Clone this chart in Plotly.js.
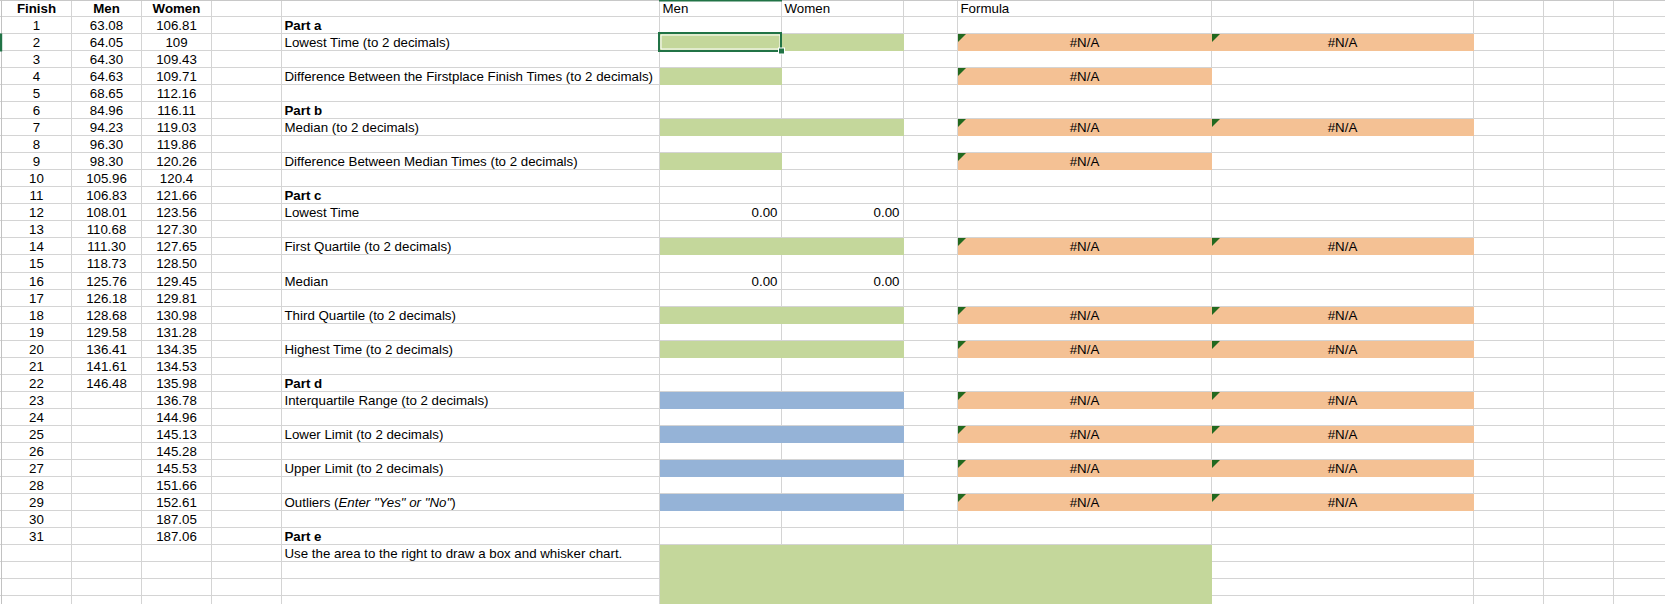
<!DOCTYPE html>
<html>
<head>
<meta charset="utf-8">
<script src="https://cdn.plot.ly/plotly-3.0.1.min.js"></script>
<style>html,body{margin:0;padding:0;background:#fff;}#chart{width:1665px;height:604px;}</style>
</head>
<body>
<div id="chart"></div>
<script>
// ---------------- DATA ----------------
const finish = [1,2,3,4,5,6,7,8,9,10,11,12,13,14,15,16,17,18,19,20,21,22,23,24,25,26,27,28,29,30,31];
const men = ["63.08","64.05","64.30","64.63","68.65","84.96","94.23","96.30","98.30","105.96","106.83",
             "108.01","110.68","111.30","118.73","125.76","126.18","128.68","129.58","136.41","141.61","146.48"];
const women = ["106.81","109","109.43","109.71","112.16","116.11","119.03","119.86","120.26","120.4","121.66",
               "123.56","127.30","127.65","128.50","129.45","129.81","130.98","131.28","134.35","134.53","135.98",
               "136.78","144.96","145.13","145.28","145.53","151.66","152.61","187.05","187.06"];
const dataHeaders = ["Finish","Men","Women"];
const answerHeaders = ["Men","Women"];
const formulaHeader = "Formula";

const partRows = [1,6,11,22,31];
const partLabels = ["Part a","Part b","Part c","Part d","Part e"];
const itemRows = [2,4,7,9,12,14,16,18,20,23,25,27,29,32];
const itemLabels = [
  "Lowest Time (to 2 decimals)",
  "Difference Between the Firstplace Finish Times (to 2 decimals)",
  "Median (to 2 decimals)",
  "Difference Between Median Times (to 2 decimals)",
  "Lowest Time",
  "First Quartile (to 2 decimals)",
  "Median",
  "Third Quartile (to 2 decimals)",
  "Highest Time (to 2 decimals)",
  "Interquartile Range (to 2 decimals)",
  "Lower Limit (to 2 decimals)",
  "Upper Limit (to 2 decimals)",
  "Outliers (<i>Enter \"Yes\" or \"No\"</i>)",
  "Use the area to the right to draw a box and whisker chart."
];
const menInputRows = [2,4,7,9,14,18,20];
const womenInputRows = [2,7,14,18,20];
const limitInputRows = [23,25,27,29];
const computedRows = [12,16];
const computedMen = ["0.00","0.00"];
const computedWomen = ["0.00","0.00"];
const formulaMenRows = [2,4,7,9,14,18,20,23,25,27,29];
const formulaWomenRows = [2,7,14,18,20,23,25,27,29];
const formulaValue = "#N/A";
const chartAreaStartRow = 32;

// ---------------- GEOMETRY / STYLE ----------------
const W = 1665, H = 604;
const colEdges = [1.5, 71.5, 141.5, 211.5, 281.5, 659.5, 781.5, 903.5, 957.5, 1211.5, 1473.5, 1543.5, 1613.5];
const ROW0 = 16.7, PITCH = 17.02;
function lineY(k){ return Math.floor(ROW0 + PITCH*k) + 0.5; }
function rowTop(r){ return r === 0 ? 0.5 : lineY(r-1); }
function rowBot(r){ return lineY(r); }
function rowMid(r){ return (rowTop(r) + rowBot(r))/2 + 1.3; }
function colL(c){ return colEdges[c]; }
function colR(c){ return colEdges[c+1]; }
function colMid(c){ return (colEdges[c]+colEdges[c+1])/2; }
const PAD = 3;
const GRID = "#d4d4d4";
const GREEN = "#c4d79b", BLUE = "#95b3d7", ORANGE = "#f4c194";
const SEL = "#217346", TRI = "#22691f";
const FONT = {family: "'Liberation Sans', Arial, sans-serif", size: 13.3, color: "#000"};

const shapes = [];
function rect(x0,y0,x1,y1,fill,line){
  shapes.push({type:"rect", xref:"x", yref:"y", x0:x0, y0:y0, x1:x1, y1:y1, layer:"below",
    fillcolor: fill || "rgba(0,0,0,0)", line: line || {width:0}});
}
function lineShape(x0,y0,x1,y1,color,w){
  shapes.push({type:"line", xref:"x", yref:"y", x0:x0, y0:y0, x1:x1, y1:y1, layer:"below",
    line:{color:color, width:w||1}});
}

// gridlines
for(let k=0; k<36; k++){ const y=lineY(k); if(y<H) lineShape(0,y,W,y,GRID,1); }
colEdges.forEach((x,i)=>{ lineShape(x,0,x,H, i===0 ? "#c2c2c2" : GRID, 1); });
lineShape(0,0.5,W,0.5,"#c8c8c8",1);

// fills (cover gridlines of the filled cells)
function cellFill(r, c0, c1, color){ rect(colL(c0)+0.5, rowTop(r)+0.5, colR(c1)+0.5, rowBot(r)+0.5, color); }
const F=5, G=6, I=8, J=9;
menInputRows.forEach(r=>{ cellFill(r, F, womenInputRows.includes(r) ? G : F, GREEN); });
limitInputRows.forEach(r=>{ cellFill(r, F, G, BLUE); });
formulaMenRows.forEach(r=>{ cellFill(r, I, formulaWomenRows.includes(r) ? J : I, ORANGE); });
rect(colL(F)+0.5, rowTop(chartAreaStartRow)+0.5, colR(I)+0.5, H, GREEN);

// error indicator triangles
function tri(r, c){
  const x = colL(c)+0.5, y = rowTop(r)+0.5;
  shapes.push({type:"path", xref:"x", yref:"y", layer:"below",
    path:`M ${x},${y} L ${x+8},${y} L ${x},${y+8} Z`, fillcolor:TRI, line:{width:0}});
}
formulaMenRows.forEach(r=>tri(r, I));
formulaWomenRows.forEach(r=>tri(r, J));

// selection of the first answer cell
const selR = menInputRows[0];
rect(colL(F)+1.5, rowTop(selR)+1.5, colR(F)-1.5, rowBot(selR)-1.5, null, {color:"#ffffff", width:1});
rect(colL(F)-0.5, rowTop(selR)-0.5, colR(F)-0.5, rowBot(selR)+0.5, null, {color:SEL, width:2});
rect(colR(F)-3.5, rowBot(selR)-3, colR(F)+3.5, rowBot(selR)+4, "#ffffff");
rect(colR(F)-2.5, rowBot(selR)-2, colR(F)+2.5, rowBot(selR)+3, SEL);
rect(colL(F)-0.5, 0, colR(F)+0.5, 1.5, SEL);
rect(0, rowTop(selR), 2.2, rowBot(selR)+1, SEL);

// ---------------- TEXT TRACES ----------------
const traces = [];
function txt(xs, ys, texts, pos, font){
  traces.push({type:"scatter", mode:"text", x:xs, y:ys, text:texts, textposition:pos,
    textfont: Object.assign({}, FONT, font||{}), hoverinfo:"skip", showlegend:false, cliponaxis:false});
}
// header row
txt([colMid(0),colMid(1),colMid(2)], [rowMid(0),rowMid(0),rowMid(0)], dataHeaders.map(s=>"<b>"+s+"</b>"), "middle center");
txt([colL(F)+PAD, colL(G)+PAD, colL(I)+PAD], [rowMid(0),rowMid(0),rowMid(0)],
    [answerHeaders[0], answerHeaders[1], formulaHeader], "middle right");
// data columns
txt(finish.map(()=>colMid(0)), finish.map(f=>rowMid(f)), finish.map(String), "middle center");
txt(men.map(()=>colMid(1)), men.map((v,i)=>rowMid(i+1)), men, "middle center");
txt(women.map(()=>colMid(2)), women.map((v,i)=>rowMid(i+1)), women, "middle center");
// labels
txt(partRows.map(()=>colL(4)+PAD), partRows.map(rowMid), partLabels.map(s=>"<b>"+s+"</b>"), "middle right");
txt(itemRows.map(()=>colL(4)+PAD), itemRows.map(rowMid), itemLabels, "middle right");
// computed values (right aligned)
txt(computedRows.map(()=>colR(F)-PAD-1), computedRows.map(rowMid), computedMen, "middle left");
txt(computedRows.map(()=>colR(G)-PAD-1), computedRows.map(rowMid), computedWomen, "middle left");
// formula results
txt(formulaMenRows.map(()=>colMid(I)), formulaMenRows.map(rowMid), formulaMenRows.map(()=>formulaValue), "middle center");
txt(formulaWomenRows.map(()=>colMid(J)), formulaWomenRows.map(rowMid), formulaWomenRows.map(()=>formulaValue), "middle center");

const layout = {
  width: W, height: H,
  margin: {l:0, r:0, t:0, b:0, pad:0},
  paper_bgcolor: "#ffffff", plot_bgcolor: "#ffffff",
  xaxis: {range:[0,W], visible:false, fixedrange:true},
  yaxis: {range:[H,0], visible:false, fixedrange:true},
  shapes: shapes,
  showlegend: false,
  hovermode: false
};
Plotly.newPlot("chart", traces, layout, {staticPlot:true, displayModeBar:false});
</script>
</body>
</html>
